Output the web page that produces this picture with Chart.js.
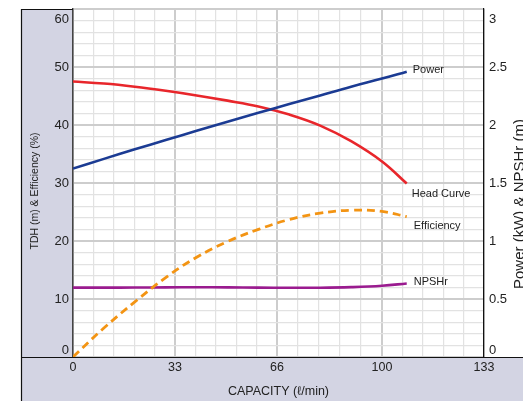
<!DOCTYPE html>
<html>
<head>
<meta charset="utf-8">
<script src="https://cdn.jsdelivr.net/npm/chart.js@4.4.1/dist/chart.umd.min.js"></script>
<style>
  body { margin: 0; background: #fff; }
  canvas { display: block; }
</style>
</head>
<body>
<canvas id="pumpChart" width="523" height="401"></canvas>
<script>
const capacity = [0, 10, 20, 30, 40, 50, 60, 70, 80, 90, 100, 108];

// left axis: TDH (m) & Efficiency (%)
const headCurve = [47.5, 47.15, 46.6, 45.9, 45.1, 44.2, 43.2, 41.8, 39.9, 37.2, 33.7, 29.9];
const efficiency = [0, 5.0, 9.5, 13.7, 17.2, 19.9, 22.0, 23.7, 24.8, 25.3, 25.1, 24.2];

// right axis: Power (kW) & NPSHr (m)
const power = [1.625, 1.708, 1.79, 1.87, 1.95, 2.028, 2.105, 2.18, 2.255, 2.33, 2.40, 2.46];
const npshr = [0.598, 0.598, 0.599, 0.600, 0.601, 0.600, 0.598, 0.597, 0.597, 0.602, 0.614, 0.634];

const xTickLabels = [0, 33, 66, 100, 133];
const leftTickLabels = [0, 10, 20, 30, 40, 50, 60];
const rightTickLabels = [0, 0.5, 1, 1.5, 2, 2.5, 3];

const PANEL = "#d3d4e3";
const FONT = "'Liberation Sans', Arial, sans-serif";
const MAJOR_GRID = "#cdcdcd";
const MINOR_GRID = "#e2e2e2";

// where each curve's name sits next to its last point
const endLabelOffsets = {
  "Power": [6, -2],
  "Head Curve": [5, 10],
  "Efficiency": [7, 9],
  "NPSHr": [7, -1],
};

function toPoints(ys) {
  return capacity.map((x, i) => ({ x, y: ys[i] }));
}

// x grid: 5 minor divisions between each labelled tick
function buildXTicks() {
  const vals = [];
  for (let i = 0; i < xTickLabels.length - 1; i++) {
    const a = xTickLabels[i];
    const b = xTickLabels[i + 1];
    for (let k = 0; k < 5; k++) vals.push(a + ((b - a) * k) / 5);
  }
  vals.push(xTickLabels[xTickLabels.length - 1]);
  return vals;
}

// top label sits under the top line, bottom one above the axis
function edgeNudge(scale, v) {
  if (v === scale.max) return 10;
  if (v === scale.min) return -7;
  return 0;
}

const framePlugin = {
  id: "frame",
  beforeDraw(chart) {
    const { ctx, chartArea: a, width, height } = chart;
    ctx.save();
    ctx.fillStyle = PANEL;
    ctx.fillRect(21, a.top, a.left - 21, height - a.top);
    ctx.fillRect(21, a.bottom, width - 21, height - a.bottom);
    ctx.restore();
  },
  afterDatasetsDraw(chart) {
    const { ctx } = chart;
    ctx.save();
    ctx.font = "11px " + FONT;
    ctx.fillStyle = "#222";
    ctx.textAlign = "left";
    ctx.textBaseline = "middle";
    chart.data.datasets.forEach((ds, i) => {
      const pts = chart.getDatasetMeta(i).data;
      const last = pts[pts.length - 1];
      const off = endLabelOffsets[ds.label] || [6, 0];
      ctx.fillText(ds.label, last.x + off[0], last.y + off[1]);
    });
    ctx.restore();
  },
  afterDraw(chart) {
    const { ctx, chartArea: a, width, height, scales } = chart;
    ctx.save();
    ctx.strokeStyle = "#111";
    ctx.lineWidth = 1.2;
    ctx.beginPath();
    // outer left border and top of the left panel
    ctx.moveTo(21.5, height);
    ctx.lineTo(21.5, a.top + 0.5);
    ctx.lineTo(a.left, a.top + 0.5);
    // x axis line across the whole width
    ctx.moveTo(21, a.bottom + 0.5);
    ctx.lineTo(width, a.bottom + 0.5);
    ctx.stroke();

    // y tick labels
    ctx.fillStyle = "#222";
    ctx.font = "13px " + FONT;
    ctx.textBaseline = "middle";
    ctx.textAlign = "right";
    leftTickLabels.forEach((v) => {
      const s = scales.y;
      ctx.fillText(String(v), a.left - 4, s.getPixelForValue(v) + edgeNudge(s, v));
    });
    ctx.textAlign = "left";
    rightTickLabels.forEach((v) => {
      const s = scales.yRight;
      ctx.fillText(String(v), a.right + 5, s.getPixelForValue(v) + edgeNudge(s, v));
    });

    // axis titles
    ctx.font = "12.5px " + FONT;
    ctx.textAlign = "center";
    ctx.fillText("CAPACITY (\u2113/min)", (a.left + a.right) / 2, 392);

    ctx.save();
    ctx.translate(35, 191);
    ctx.rotate(-Math.PI / 2);
    ctx.font = "10.5px " + FONT;
    ctx.fillText("TDH (m) & Efficiency (%)", 0, 0);
    ctx.restore();

    ctx.save();
    ctx.translate(524, 204);
    ctx.rotate(-Math.PI / 2);
    ctx.font = "15px " + FONT;
    ctx.textBaseline = "alphabetic";
    ctx.fillText("Power (kW) & NPSHr (m)", 0, 0);
    ctx.restore();

    ctx.restore();
  },
};

new Chart(document.getElementById("pumpChart"), {
  type: "line",
  data: {
    datasets: [
      {
        label: "Power",
        data: toPoints(power),
        yAxisID: "yRight",
        borderColor: "#1b3b93",
        borderWidth: 2.6,
      },
      {
        label: "Head Curve",
        data: toPoints(headCurve),
        yAxisID: "y",
        borderColor: "#e8262b",
        borderWidth: 2.6,
      },
      {
        label: "Efficiency",
        data: toPoints(efficiency),
        yAxisID: "y",
        borderColor: "#f39413",
        borderWidth: 2.8,
        borderDash: [8, 5],
      },
      {
        label: "NPSHr",
        data: toPoints(npshr),
        yAxisID: "yRight",
        borderColor: "#9a1b8f",
        borderWidth: 2.6,
      },
    ],
  },
  options: {
    responsive: false,
    animation: false,
    layout: { padding: { top: 9, left: 0, right: 0, bottom: 0 } },
    elements: {
      point: { radius: 0 },
      line: { tension: 0.4, fill: false },
    },
    plugins: {
      legend: { display: false },
      tooltip: { enabled: false },
    },
    scales: {
      x: {
        type: "linear",
        min: 0,
        max: 133,
        afterBuildTicks: (scale) => {
          scale.ticks = buildXTicks().map((v) => ({ value: v }));
        },
        afterFit: (scale) => { scale.height = 44; },
        ticks: {
          autoSkip: false,
          maxRotation: 0,
          padding: 3,
          color: "#222",
          font: { family: FONT, size: 12.5 },
          callback: (v) => (xTickLabels.includes(v) ? String(v) : ""),
        },
        grid: {
          drawTicks: false,
          color: (c) => (c.tick && xTickLabels.includes(c.tick.value) ? MAJOR_GRID : MINOR_GRID),
          lineWidth: (c) => (c.tick && xTickLabels.includes(c.tick.value) ? 2 : 1.2),
        },
        border: { display: false },
      },
      y: {
        position: "left",
        min: 0,
        max: 60,
        afterFit: (scale) => { scale.width = 73; },
        ticks: { stepSize: 2, autoSkip: false, display: false },
        grid: {
          drawTicks: false,
          color: (c) => (c.tick && c.tick.value % 10 === 0 ? MAJOR_GRID : MINOR_GRID),
          lineWidth: (c) => (c.tick && c.tick.value % 10 === 0 ? 2 : 1.2),
        },
        border: { color: "#444", width: 1.5 },
      },
      yRight: {
        position: "right",
        min: 0,
        max: 3,
        afterFit: (scale) => { scale.width = 39; },
        ticks: { stepSize: 0.5, display: false },
        grid: { drawOnChartArea: false, drawTicks: false },
        border: { color: "#111", width: 1.2 },
      },
    },
  },
  plugins: [framePlugin],
});
</script>
</body>
</html>
